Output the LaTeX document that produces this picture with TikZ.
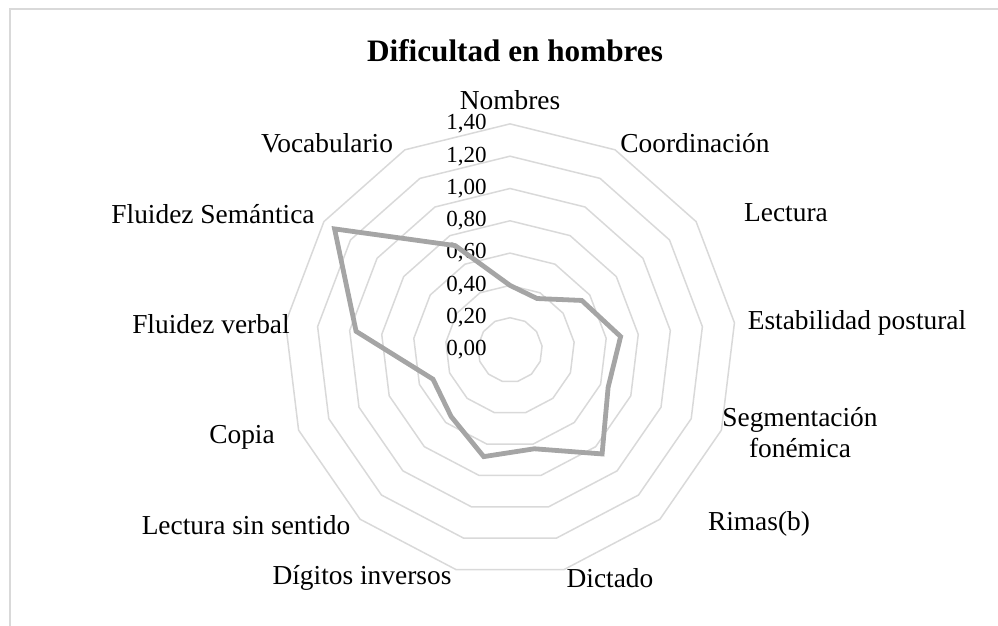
\documentclass[tikz,border=0pt]{standalone}
\usepackage{fontspec}
\setmainfont{Liberation Serif}

\definecolor{gridgray}{HTML}{D9D9D9}
\definecolor{seriegray}{HTML}{A5A5A5}

\begin{document}
\begin{tikzpicture}[
                    x=0.5pt,
                    y=0.5pt,
                    line join=miter,
                    grid/.style={draw=gridgray, line width=0.75pt},
                    serie/.style={draw=seriegray, line width=2.4pt},
                    axislabel/.style={font=\fontsize{13.7}{15.5}\selectfont, inner sep=0pt, align=center},
                    ticklabel/.style={font=\fontsize{11.5}{13}\selectfont, inner sep=0pt, anchor=east}
                ]
                \useasboundingbox (0,0) rectangle (998,626);
                \clip (0,0) rectangle (998,626);
                \draw[grid] (10,617) rectangle (1010,-20);

                \node[font=\bfseries\fontsize{15.6}{18}\selectfont, inner sep=0pt] (title) at (515,575) {Dificultad en hombres};

                \begin{scope}[shift={(510,276)}]
                    % rings every 0,20
                    \foreach \r in {1,...,7}
                        \draw[grid] (90:\r*32.3) \foreach \k in {1,...,12} { -- (90-\k*360/13:\r*32.3) } -- cycle;
                    \foreach \r/\t in {0/{0,00},1/{0,20},2/{0,40},3/{0,60},4/{0,80},5/{1,00},6/{1,20},7/{1,40}}
                        \node[ticklabel] (tick\r) at (-23,\r*32.3) {\t};

                    % values
                    \foreach \k/\v in {0/0.40,1/0.36,2/0.54,3/0.69,4/0.65,5/0.86,6/0.63,
                                       7/0.68,8/0.55,9/0.51,10/0.96,11/1.32,12/0.73}
                        \coordinate (d\k) at (90-\k*360/13:\v*161.5);
                    \draw[serie] (d0) -- (d1) -- (d2) -- (d3) -- (d4) -- (d5) -- (d6)
                        -- (d7) -- (d8) -- (d9) -- (d10) -- (d11) -- (d12) -- cycle;
                \end{scope}

                \node[axislabel] (nombres) at (510,526) {Nombres};
                \node[axislabel] (coord) at (695,483) {Coordinación};
                \node[axislabel] (lectura) at (786,413) {Lectura};
                \node[axislabel] (estab) at (857,303) {Estabilidad postural};
                \node[axislabel] (segm) at (800,193) {Segmentación\\fonémica};
                \node[axislabel] (rimas) at (759,102) {Rimas(b)};
                \node[axislabel] (dictado) at (610,48) {Dictado};
                \node[axislabel] (digitos) at (362,48) {Dígitos inversos};
                \node[axislabel] (lss) at (246,101) {Lectura sin sentido};
                \node[axislabel] (copia) at (242,189) {Copia};
                \node[axislabel] (fverbal) at (211,302) {Fluidez verbal};
                \node[axislabel] (fsem) at (213,412) {Fluidez Semántica};
                \node[axislabel] (vocab) at (327,483) {Vocabulario};

            \end{tikzpicture}
\end{document}
